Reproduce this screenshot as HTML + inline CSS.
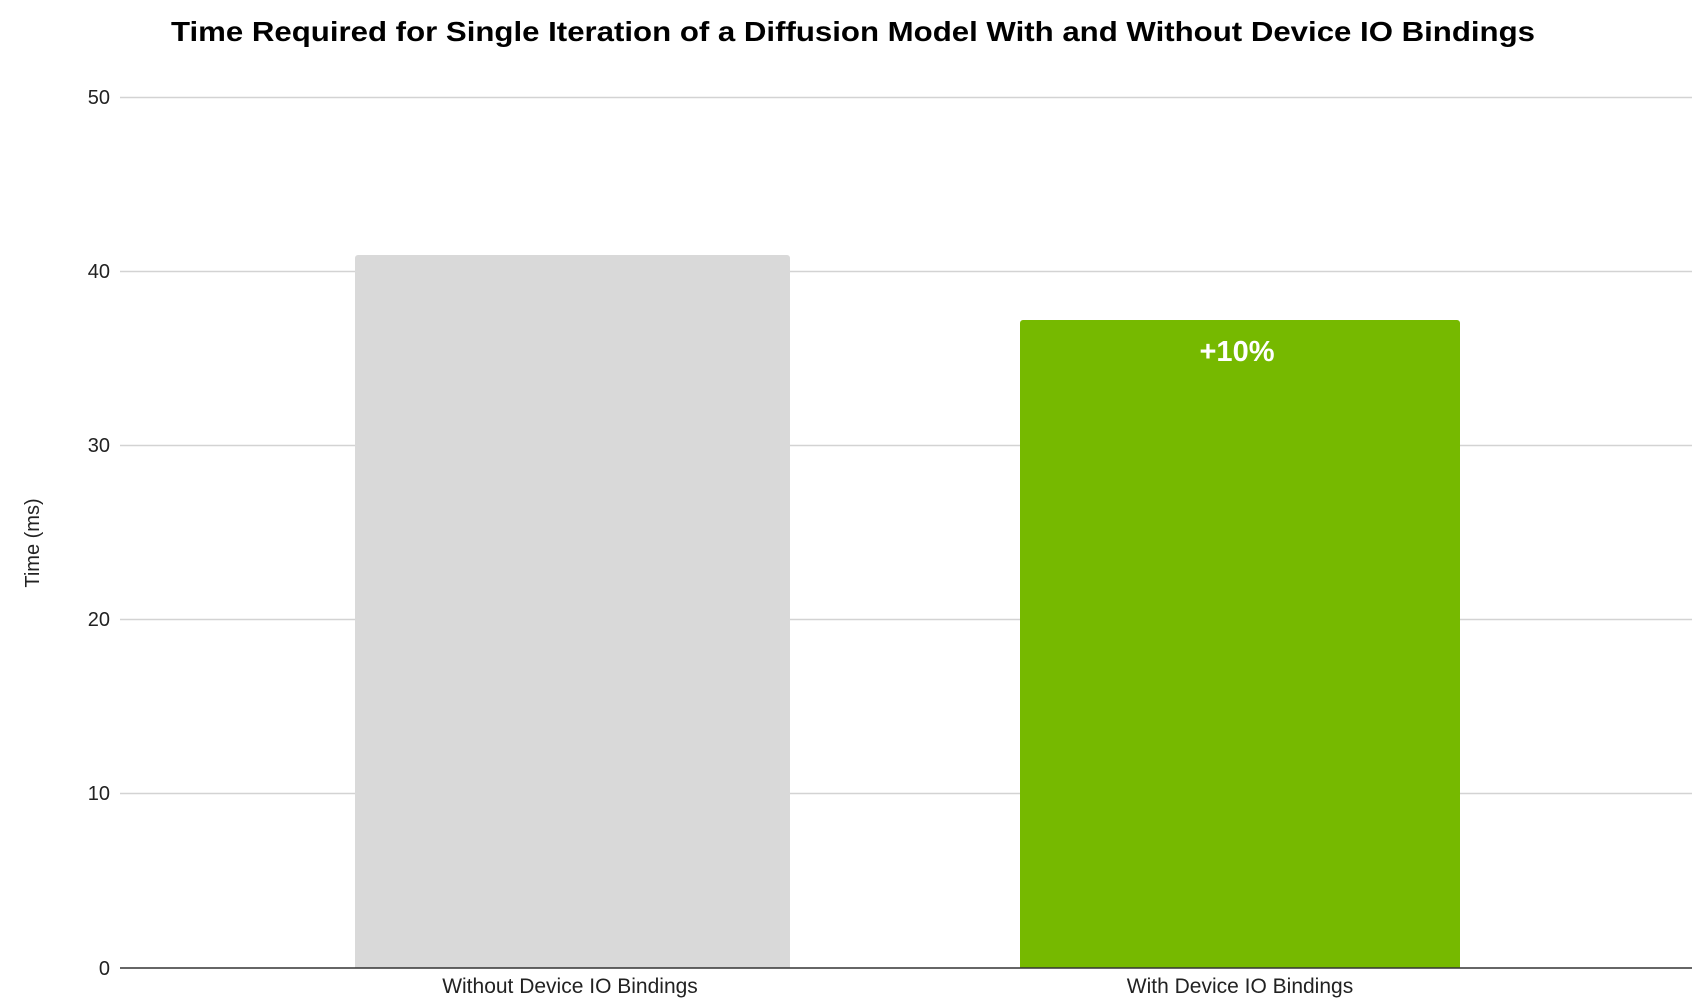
<!DOCTYPE html>
<html><head><meta charset="utf-8"><style>html,body{margin:0;padding:0;background:#fff;}svg{display:block;}</style></head>
<body>
<svg width="1706" height="1001" viewBox="0 0 1706 1001" xmlns="http://www.w3.org/2000/svg" font-family="Liberation Sans, sans-serif">
<rect width="1706" height="1001" fill="#fff"/>
<text x="853" y="41" text-anchor="middle" font-size="28" font-weight="bold" fill="#000" textLength="1364" lengthAdjust="spacingAndGlyphs">Time Required for Single Iteration of a Diffusion Model With and Without Device IO Bindings</text>
<g stroke="#d3d3d3" stroke-width="1.5">
<line x1="120" x2="1692" y1="97.5" y2="97.5"/>
<line x1="120" x2="1692" y1="271.5" y2="271.5"/>
<line x1="120" x2="1692" y1="445.5" y2="445.5"/>
<line x1="120" x2="1692" y1="619.5" y2="619.5"/>
<line x1="120" x2="1692" y1="793.5" y2="793.5"/>
</g>
<g font-size="20" fill="#222" text-anchor="end">
<text x="110" y="104">50</text>
<text x="110" y="278">40</text>
<text x="110" y="452">30</text>
<text x="110" y="626">20</text>
<text x="110" y="800">10</text>
<text x="110" y="975">0</text>
</g>
<path d="M355 968 V258 a3 3 0 0 1 3 -3 H787 a3 3 0 0 1 3 3 V968 Z" fill="#d9d9d9"/>
<path d="M1020 968 V323 a3 3 0 0 1 3 -3 H1457 a3 3 0 0 1 3 3 V968 Z" fill="#76b900"/>
<line x1="120" x2="1692" y1="968" y2="968" stroke="#333" stroke-width="1.5"/>
<text x="1237" y="361" text-anchor="middle" font-size="29" font-weight="bold" fill="#fff">+10%</text>
<g font-size="21" fill="#222" text-anchor="middle">
<text x="570" y="993">Without Device IO Bindings</text>
<text x="1240" y="993">With Device IO Bindings</text>
</g>
<text transform="translate(39,543) rotate(-90)" text-anchor="middle" font-size="20" fill="#222">Time (ms)</text>
</svg>
</body></html>
